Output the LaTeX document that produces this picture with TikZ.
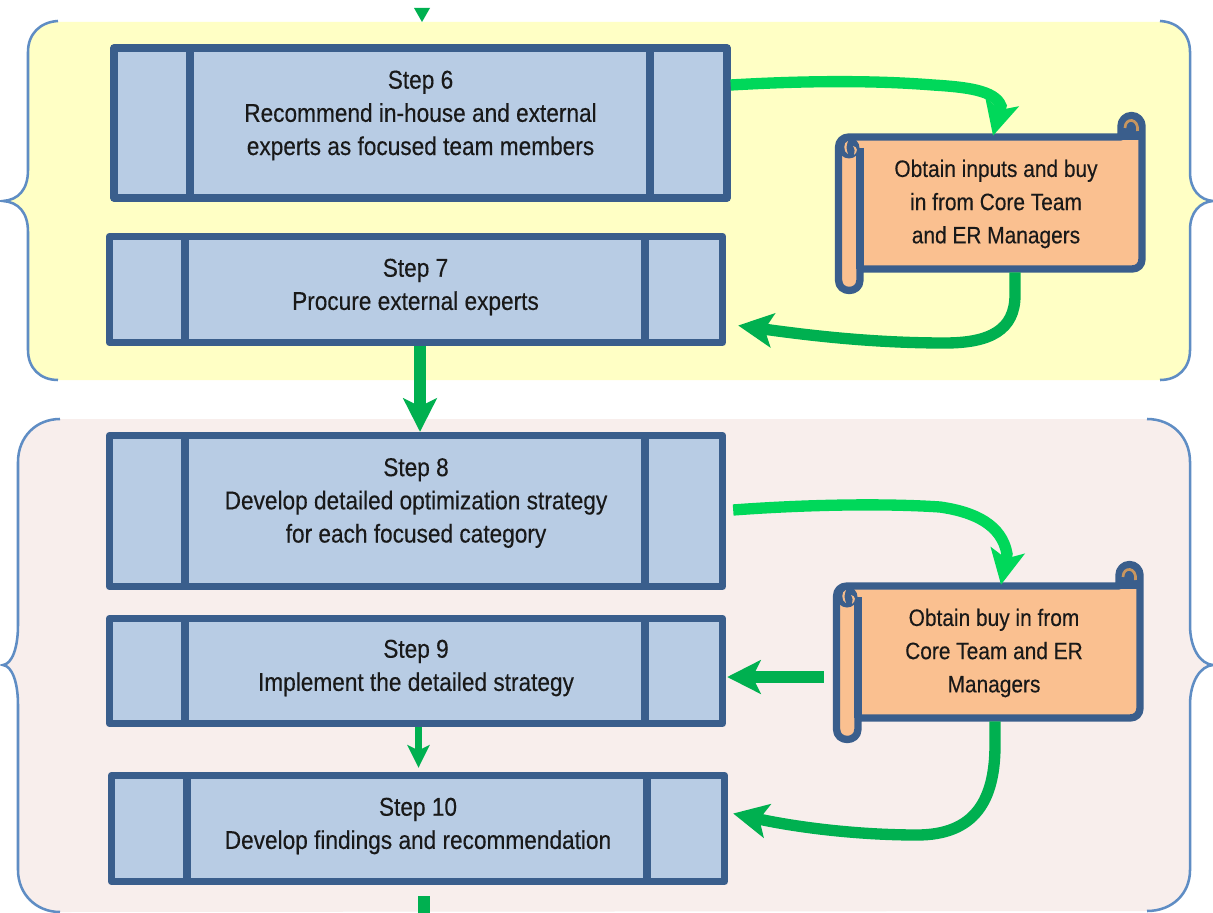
\documentclass[tikz,border=0pt]{standalone}
\usepackage{fontspec}
\setmainfont[FakeStretch=0.88,FakeBold=0.3]{Liberation Sans}
\usetikzlibrary{arrows.meta,calc}
\definecolor{boxblue}{HTML}{B8CCE4}
\definecolor{edgeblue}{HTML}{3A5E8C}
\definecolor{scrollfill}{HTML}{FAC090}
\definecolor{curl}{HTML}{C8965F}
\definecolor{bracecol}{HTML}{5F8DC4}
\definecolor{panelyellow}{HTML}{FFFFC5}
\definecolor{panelpink}{HTML}{F8EEEC}
\definecolor{darkgreen}{HTML}{00B050}
\definecolor{lightgreen}{HTML}{00D85A}
\tikzset{
  stepbox/.style={draw=edgeblue,fill=boxblue,line width=5.5pt,line join=round,inner sep=0pt},
  divider/.style={draw=edgeblue,line width=5.5pt},
  steptext/.style={align=center,font=\fontsize{19.3}{24.9}\selectfont,text=black!90,inner sep=0pt},
  scrolltext/.style={align=center,font=\fontsize{17.8}{24.9}\selectfont,text=black!90,inner sep=0pt},
  bracel/.style={draw=bracecol,line width=1.9pt},
  bigarrow/.style={line width=8.5pt,-{Stealth[length=26pt,width=25.5pt,inset=6pt]}},
  midarrow/.style={line width=8.5pt,-{Stealth[length=25pt,width=25pt,inset=6pt]}},
  smallarrow/.style={line width=5.25pt,darkgreen,-{Stealth[length=17pt,width=16.5pt,inset=4pt]}},
  pics/scrollbody/.style={code={
    \draw[edgeblue,line width=5.5pt,line join=round,fill=scrollfill]
      (849,137) -- (1121,137) -- (1121,126) arc[start angle=180,end angle=0,x radius=10.5,y radius=-10.5] -- (1142,259)
      .. controls (1142,265) and (1138,269) .. (1132,269) -- (860,269) -- (860,280)
      .. controls (860,294) and (838.5,294) .. (838.5,280) -- (838.5,147.5)
      .. controls (838.5,141) and (843,137) .. (849,137) -- cycle;
    \fill[edgeblue] (849,148) circle[radius=10.5];
    \fill[edgeblue] (1131.5,127) circle[radius=9];
    \fill[edgeblue] (1121,126) rectangle (1142,140);
    \draw[edgeblue,line width=5.5pt] (860,148) -- (860,269);
    \draw[curl,line width=2pt] (1125,128) .. controls (1125,117) and (1139,118) .. (1137.5,131);
    \fill[scrollfill!90!curl] (848,141) .. controls (843,142) and (843,152) .. (848,154) .. controls (846,149) and (846,146) .. (848,141) -- cycle;
    \fill[scrollfill!90!curl] (853,146) .. controls (858,147) and (858,152) .. (854,155) .. controls (855,152) and (855,149) .. (853,146) -- cycle;
  }}
}
\begin{document}
\begin{tikzpicture}[x=0.75pt,y=-0.75pt]
\useasboundingbox[fill=white] (0,0) rectangle (1213,913);
\begin{scope}
\clip (0,0) rectangle (1213,913);
% yellow panel
\fill[panelyellow] (58,22) -- (1160,22) .. controls (1178,22) and (1190,34) .. (1190,52) -- (1190,172)
  .. controls (1190,190) and (1200,200) .. (1213,201) .. controls (1200,202) and (1190,212) .. (1190,230) -- (1190,350)
  .. controls (1190,368) and (1178,380) .. (1160,380) -- (58,380)
  .. controls (40,380) and (28,368) .. (28,350) -- (28,232)
  .. controls (28,212) and (18,202) .. (3,201) .. controls (18,200) and (28,190) .. (28,170) -- (28,52)
  .. controls (28,34) and (40,22) .. (58,22) -- cycle;
\draw[bracel] (58,21) .. controls (40,22) and (28,34) .. (28,52) -- (28,170) .. controls (28,190) and (18,200) .. (3,201)
  .. controls (18,202) and (28,212) .. (28,232) -- (28,350) .. controls (28,368) and (40,380) .. (58,380);
\draw[bracel] (1160,21) .. controls (1178,22) and (1190,34) .. (1190,52) -- (1190,172) .. controls (1190,190) and (1200,200) .. (1213,201)
  .. controls (1200,202) and (1190,212) .. (1190,230) -- (1190,350) .. controls (1190,368) and (1178,380) .. (1160,380);
% pink panel
\fill[panelpink] (60,419) -- (1147,419) .. controls (1172,419) and (1190,437) .. (1190,462) -- (1190,625)
  .. controls (1190,648) and (1200,664) .. (1213,665) .. controls (1200,666) and (1190,682) .. (1190,705) -- (1190,870)
  .. controls (1190,894) and (1172,911) .. (1147,911) -- (60,912)
  .. controls (36,912) and (18,894) .. (18,870) -- (18,705)
  .. controls (18,682) and (12,666) .. (3,665) .. controls (12,664) and (18,648) .. (18,625) -- (18,462)
  .. controls (18,437) and (36,419) .. (60,419) -- cycle;
\draw[bracel] (60,419) .. controls (36,419) and (18,437) .. (18,462) -- (18,625) .. controls (18,648) and (12,664) .. (3,665)
  .. controls (12,666) and (18,682) .. (18,705) -- (18,870) .. controls (18,894) and (36,912) .. (60,912);
\draw[bracel] (1147,419) .. controls (1172,419) and (1190,437) .. (1190,462) -- (1190,625) .. controls (1190,648) and (1200,664) .. (1213,665)
  .. controls (1200,666) and (1190,682) .. (1190,705) -- (1190,870) .. controls (1190,894) and (1172,911) .. (1147,911);

% step boxes
\node[stepbox,minimum width=613*0.75pt,minimum height=150*0.75pt] (s6) at (420.5,123) {};
\node[stepbox,minimum width=613*0.75pt,minimum height=106*0.75pt] (s7) at (416,289.5) {};
\node[stepbox,minimum width=613*0.75pt,minimum height=151*0.75pt] (s8) at (416,511) {};
\node[stepbox,minimum width=613*0.75pt,minimum height=105*0.75pt] (s9) at (416,671) {};
\node[stepbox,minimum width=613*0.75pt,minimum height=106*0.75pt] (s10) at (418,828.5) {};
\path[divider] (190,48) -- (190,198) (650,48) -- (650,198);
\path[divider] (185,237) -- (185,342) (645,237) -- (645,342);
\path[divider] (185,436) -- (185,586) (645,436) -- (645,586);
\path[divider] (185,619) -- (185,723) (645,619) -- (645,723);
\path[divider] (187,776) -- (187,881) (647,776) -- (647,881);
\node[steptext] (t6) at (420.5,115.5) {Step 6\\Recommend in-house and external\\experts as focused team members};
\node[steptext] (t7) at (415.5,287) {Step 7\\Procure external experts};
\node[steptext] (t8) at (416,503) {Step 8\\Develop detailed optimization strategy\\for each focused category};
\node[steptext] (t9) at (416,668) {Step 9\\Implement the detailed strategy};
\node[steptext] (t10) at (418,826) {Step 10\\Develop findings and recommendation};

% scrolls
\pic at (0,0) {scrollbody};
\pic at (-2,449) {scrollbody};
\node[inner sep=0pt,minimum width=282*0.75pt,minimum height=132*0.75pt] (sc1) at (1001,203) {};
\node[inner sep=0pt,minimum width=282*0.75pt,minimum height=132*0.75pt] (sc2) at (999,652) {};
\node[scrolltext] (c1) at (996,204) {Obtain inputs and buy\\in from Core Team\\and ER Managers};
\node[scrolltext] (c2) at (994,653) {Obtain buy in from\\Core Team and ER\\Managers};

% connectors
\coordinate (topin) at (422,8);
\coordinate (topend) at (422,22);
\fill[darkgreen] (topin)+(-8,0) -- (topend) -- ($(topin)+(8,0)$) -- cycle;
\draw[bigarrow,lightgreen] ($(s6.east)+(0,-38)$) .. controls (800,81) and (870,80) .. (933,85)
  .. controls (965,87) and (995,90) .. (1001,106) -- ($(sc1.north)+(-8,-1)$);
\draw[bigarrow,darkgreen] ($(sc1.south)+(14,3)$) -- (1015,295) .. controls (1015,330) and (990,343) .. (945,343)
  .. controls (880,343) and (820,337) .. ($(s7.east)+(12,36)$);
\draw[midarrow,darkgreen] (s7.south -| 420,0) -- (s8.north -| 420,0);
\draw[bigarrow,lightgreen] ($(s8.east)+(7,-1)$) .. controls (800,505) and (880,503) .. (940,507)
  .. controls (975,512) and (1002,525) .. (1007,554) -- ($(sc2.north)+(2,-1)$);
\draw[midarrow,darkgreen] ($(sc2.west)+(-34,25)$) -- ($(s9.east)+(1,6)$);
\draw[bigarrow,darkgreen] ($(sc2.south)+(-4,3)$) -- (995,745) .. controls (995,800) and (975,835) .. (917,835)
  .. controls (860,835) and (800,828) .. ($(s10.east)+(5,-15)$);
\draw[smallarrow] (s9.south -| 418.5,0) -- ($(s10.north -| 418.5,0)+(0,-4)$);
\coordinate (botout) at (424,913);
\coordinate (botin) at (424,896);
\draw[darkgreen,line width=8.5pt] (botin) -- (botout);
\end{scope}
\end{tikzpicture}
\end{document}
